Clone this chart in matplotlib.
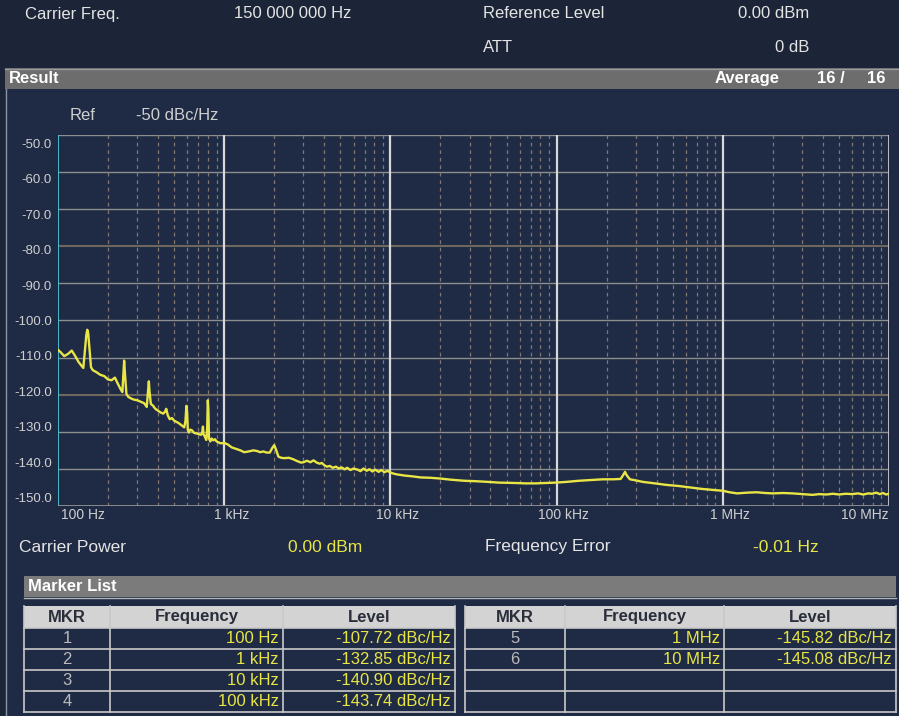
import matplotlib.pyplot as plt
import matplotlib.patches as patches
import numpy as np

plt.rcParams['font.family'] = ['Liberation Sans', 'DejaVu Sans']

# Trace (offset frequency in Hz, phase noise in dBc/Hz)
freq_hz = [
    100, 104, 109, 115, 121, 127, 133, 139, 142, 145, 148, 150, 152, 155, 158,
    162, 170, 179, 190, 200, 210, 220, 230, 240, 244, 247, 250, 253, 258, 265,
    275, 285, 300, 315, 330, 342, 348, 352, 356, 362, 372, 385, 400, 415, 430,
    440, 448, 458, 470, 485, 500, 515, 530, 545, 560, 575, 585, 592, 598, 604,
    612, 625, 640, 655, 670, 690, 710, 725, 738, 745, 750, 765, 780, 790, 797,
    803, 810, 825, 840, 860, 880, 900, 950, 1000, 1050, 1110, 1180, 1250, 1320,
    1400, 1500, 1580, 1650, 1720, 1800, 1880, 1950, 2000, 2050, 2120, 2200,
    2300, 2450, 2600, 2750, 2900, 3000, 3150, 3300, 3450, 3600, 3750, 3870,
    4000, 4150, 4320, 4500, 4700, 4900, 5090, 5300, 5500, 5750, 6000, 6340,
    6600, 6900, 7200, 7480, 7800, 8100, 8500, 8820, 9200, 9600, 10000, 10500,
    11000, 12200, 13500, 15200, 17500, 20000, 23000, 27800, 32000, 38700,
    45000, 56900, 65000, 74800, 86000, 98000, 115000, 136000, 160000, 190000,
    220000, 243000, 252000, 258000, 264000, 276000, 300000, 330000, 390000,
    455000, 540000, 636000, 750000, 886000, 1000000, 1100000, 1220000, 1400000,
    1600000, 1800000, 2000000, 2300000, 2630000, 3000000, 3470000, 3800000,
    4200000, 4600000, 5000000, 5500000, 6000000, 6500000, 7000000, 7500000,
    7900000, 8400000, 8800000, 9200000, 9600000, 10000000,
]
level_dbc = [
    -107.9, -108.6, -109.6, -109.0, -108.1, -109.6, -111.2, -112.3, -112.8,
    -108.5, -104.0, -102.5, -103.5, -108.0, -112.6, -113.4, -113.9, -114.6,
    -115.0, -115.9, -116.1, -115.4, -117.2, -118.8, -119.3, -115.0, -110.8,
    -114.5, -119.8, -120.6, -121.0, -121.3, -121.5, -121.9, -122.3, -123.3,
    -119.0, -116.4, -119.5, -122.5, -122.9, -123.8, -124.3, -124.8, -125.1,
    -124.6, -123.8, -125.6, -126.6, -126.3, -127.0, -127.3, -127.6, -128.0,
    -128.4, -128.8, -127.0, -123.0, -124.5, -129.4, -130.2, -129.4, -129.6,
    -130.2, -130.4, -130.5, -130.7, -130.8, -130.2, -128.6, -130.6, -131.3,
    -132.2, -129.0, -121.5, -124.0, -131.8, -132.6, -131.8, -132.3, -132.0,
    -132.6, -133.1, -133.0, -133.4, -134.2, -134.6, -135.0, -135.5, -135.3,
    -135.0, -135.2, -135.5, -135.3, -135.6, -135.6, -134.3, -133.6, -134.8,
    -136.7, -137.0, -137.1, -137.0, -137.4, -137.9, -138.3, -138.2, -137.8,
    -138.2, -137.7, -138.3, -138.6, -138.4, -139.0, -139.4, -139.2, -139.7,
    -139.4, -139.9, -139.6, -140.1, -139.7, -140.3, -139.9, -140.2, -140.6,
    -139.9, -140.5, -140.1, -140.7, -140.2, -140.8, -140.3, -140.9, -140.5,
    -141.0, -141.3, -141.5, -141.8, -142.0, -142.3, -142.4, -142.6, -142.9,
    -143.2, -143.3, -143.5, -143.7, -143.8, -143.9, -143.9, -143.8, -143.7,
    -143.5, -143.2, -143.0, -142.8, -142.8, -142.7, -141.6, -140.8, -141.7,
    -142.8, -143.1, -143.5, -143.9, -144.3, -144.6, -145.0, -145.4, -145.7,
    -145.9, -146.3, -146.6, -146.4, -146.3, -146.5, -146.6, -146.5, -146.6,
    -146.8, -147.0, -146.8, -146.9, -146.7, -146.9, -146.7, -146.8, -146.6,
    -146.9, -146.6, -146.7, -146.4, -146.8, -146.5, -146.9, -146.7,
]

y_ticks = [-50, -60, -70, -80, -90, -100, -110, -120, -130, -140, -150]
x_decades = [1e2, 1e3, 1e4, 1e5, 1e6, 1e7]
x_labels = ["100 Hz", "1 kHz", "10 kHz", "100 kHz", "1 MHz", "10 MHz"]

mkr_ids = ["1", "2", "3", "4", "5", "6"]
mkr_freq = ["100 Hz", "1 kHz", "10 kHz", "100 kHz", "1 MHz", "10 MHz"]
mkr_level = ["-107.72 dBc/Hz", "-132.85 dBc/Hz", "-140.90 dBc/Hz",
             "-143.74 dBc/Hz", "-145.82 dBc/Hz", "-145.08 dBc/Hz"]

# Theme
head_bg = "#1b2537"
panel_bg = "#1f2b45"
bar_gray = "#6d6d6d"
yellow = "#e9e545"
label = "#e4e4e4"
tick_c = "#cfcfcf"

W, H = 899, 716
fig = plt.figure(figsize=(W/100, H/100), dpi=100)
fig.patch.set_facecolor(head_bg)

# Background canvas in pixel coordinates
bg = fig.add_axes([0, 0, 1, 1])
bg.set_xlim(0, W)
bg.set_ylim(H, 0)
bg.axis('off')

# Panel
bg.add_patch(patches.Rectangle((5, 89), W-5, H-89, facecolor=panel_bg, edgecolor='none'))
bg.plot([5.5, 5.5], [89, H], color="#8a93a3", lw=1)

# Result bar
bg.add_patch(patches.Rectangle((5, 68), W-5, 21, facecolor=bar_gray, edgecolor='none'))
bg.plot([5, W], [68.5, 68.5], color="#9a9a9a", lw=1)
bg.text(9, 78.5, "Result", color="white", fontsize=12, fontweight='bold', va='center')
bg.text(715, 78.5, "Average", color="white", fontsize=12, fontweight='bold', va='center')
bg.text(845, 78.5, "16 /", color="white", fontsize=12, fontweight='bold', va='center', ha='right')
bg.text(886, 78.5, "16", color="white", fontsize=12, fontweight='bold', va='center', ha='right')

# Header
bg.text(25, 14, "Carrier Freq.", color=label, fontsize=12, va='center')
bg.text(234, 14, "150 000 000 Hz", color=label, fontsize=12, va='center')
bg.text(483, 14, "Reference Level", color=label, fontsize=12, va='center')
bg.text(809, 14, "0.00 dBm", color=label, fontsize=12, va='center', ha='right')
bg.text(483, 47, "ATT", color=label, fontsize=12, va='center')
bg.text(809, 47, "0 dB", color=label, fontsize=12, va='center', ha='right')

bg.text(70, 115, "Ref", color=tick_c, fontsize=12, va='center')
bg.text(136, 115, "-50 dBc/Hz", color=tick_c, fontsize=12, va='center')

# Y labels (sit a bit off their grid lines on the instrument)
for i, v in enumerate(y_ticks):
    bg.text(52, 145 + i*35.4, f"{v:.1f}", color=tick_c, fontsize=9.5,
            va='center', ha='right')

# Trace axes
x0, x1, y0, y1 = 58, 889, 135, 506
ax = fig.add_axes([x0/W, 1-y1/H, (x1-x0)/W, (y1-y0)/H])
ax.set_facecolor(panel_bg)
ax.set_xscale('log')
ax.set_xlim(1e2, 1e7)
ax.set_ylim(-150, -50)
ax.set_xticks([])
ax.set_yticks([])
ax.minorticks_off()

for v in y_ticks[1:-1]:
    if v in (-80, -120):
        ax.axhline(v, color="#6f675e", lw=1.5, zorder=1)
    else:
        ax.axhline(v, color="#8e8e8e", lw=1.0, zorder=1)
ax.axhline(-50, color="#8e8e8e", lw=1.0, zorder=1)

for d in x_decades[:-1]:
    for m in range(2, 10):
        ax.axvline(d*m, color="#7f766f", lw=0.9, ls=(0, (3, 3)), zorder=1)
for d in x_decades[1:-1]:
    ax.axvline(d, color="#d8d8d8", lw=1.6, zorder=2)

for s in ax.spines.values():
    s.set_visible(False)
ax.axvline(1e2, color="#4cc4d2", lw=1.3, zorder=3)
ax.axvline(1e7, color="#d8d8d8", lw=1.2, zorder=3)
ax.axhline(-150, color="#9a9a9a", lw=1.2, zorder=3)

ax.plot(freq_hz, level_dbc, color=yellow, lw=1.7, zorder=5, solid_joinstyle='round')

# X labels
for i, (d, t) in enumerate(zip(x_decades, x_labels)):
    px = x0 + (x1 - x0) * np.log10(d / 1e2) / 5
    if i == 0:
        bg.text(61, 515, t, color=tick_c, fontsize=10, va='center', ha='left')
    elif i == len(x_decades) - 1:
        bg.text(889, 515, t, color=tick_c, fontsize=10, va='center', ha='right')
    else:
        bg.text(px + 7, 515, t, color=tick_c, fontsize=10, va='center', ha='center')

# Carrier power / frequency error
bg.text(19, 547, "Carrier Power", color=label, fontsize=12.5, va='center')
bg.text(288, 547, "0.00 dBm", color=yellow, fontsize=12.5, va='center')
bg.text(485, 547, "Frequency Error", color=label, fontsize=12.5, va='center')
bg.text(753, 547, "-0.01 Hz", color=yellow, fontsize=12.5, va='center')

# Marker list bar
bg.add_patch(patches.Rectangle((24, 576), 872, 21, facecolor="#7b7b7b", edgecolor='none'))
bg.plot([24, 896], [597.5, 597.5], color="#b5b5b5", lw=1)
bg.text(28, 586.5, "Marker List", color="white", fontsize=12, fontweight='bold', va='center')

# Marker tables
row_y = [606, 628, 649, 670, 691, 712]
tables = [
    ([24, 110, 283, 455], range(0, 4)),
    ([465, 565, 724, 896], range(4, 6)),
]
line_c = "#c9c9c9"
for cols, idx in tables:
    bg.add_patch(patches.Rectangle((cols[0], row_y[0]), cols[-1]-cols[0], row_y[1]-row_y[0],
                                   facecolor="#d3d3d3", edgecolor='none'))
    for cx in cols:
        bg.plot([cx, cx], [row_y[0], row_y[-1]], color=line_c, lw=1.2)
    for ry in row_y[1:]:
        bg.plot([cols[0], cols[-1]], [ry, ry], color=line_c, lw=1.2)
    hy = (row_y[0] + row_y[1]) / 2
    for j, name in enumerate(["MKR", "Frequency", "Level"]):
        bg.text((cols[j] + cols[j+1]) / 2, hy, name, color="#2a2e3a",
                fontsize=12, fontweight='bold', va='center', ha='center')
    for r, k in enumerate(idx):
        cy = (row_y[r+1] + row_y[r+2]) / 2
        bg.text((cols[0] + cols[1]) / 2, cy, mkr_ids[k], color="#b9b9b9",
                fontsize=12, va='center', ha='center')
        bg.text(cols[2] - 4, cy, mkr_freq[k], color=yellow, fontsize=12,
                va='center', ha='right')
        bg.text(cols[3] - 4, cy, mkr_level[k], color=yellow, fontsize=12,
                va='center', ha='right')

plt.savefig("out.png", dpi=100, facecolor=fig.get_facecolor())
